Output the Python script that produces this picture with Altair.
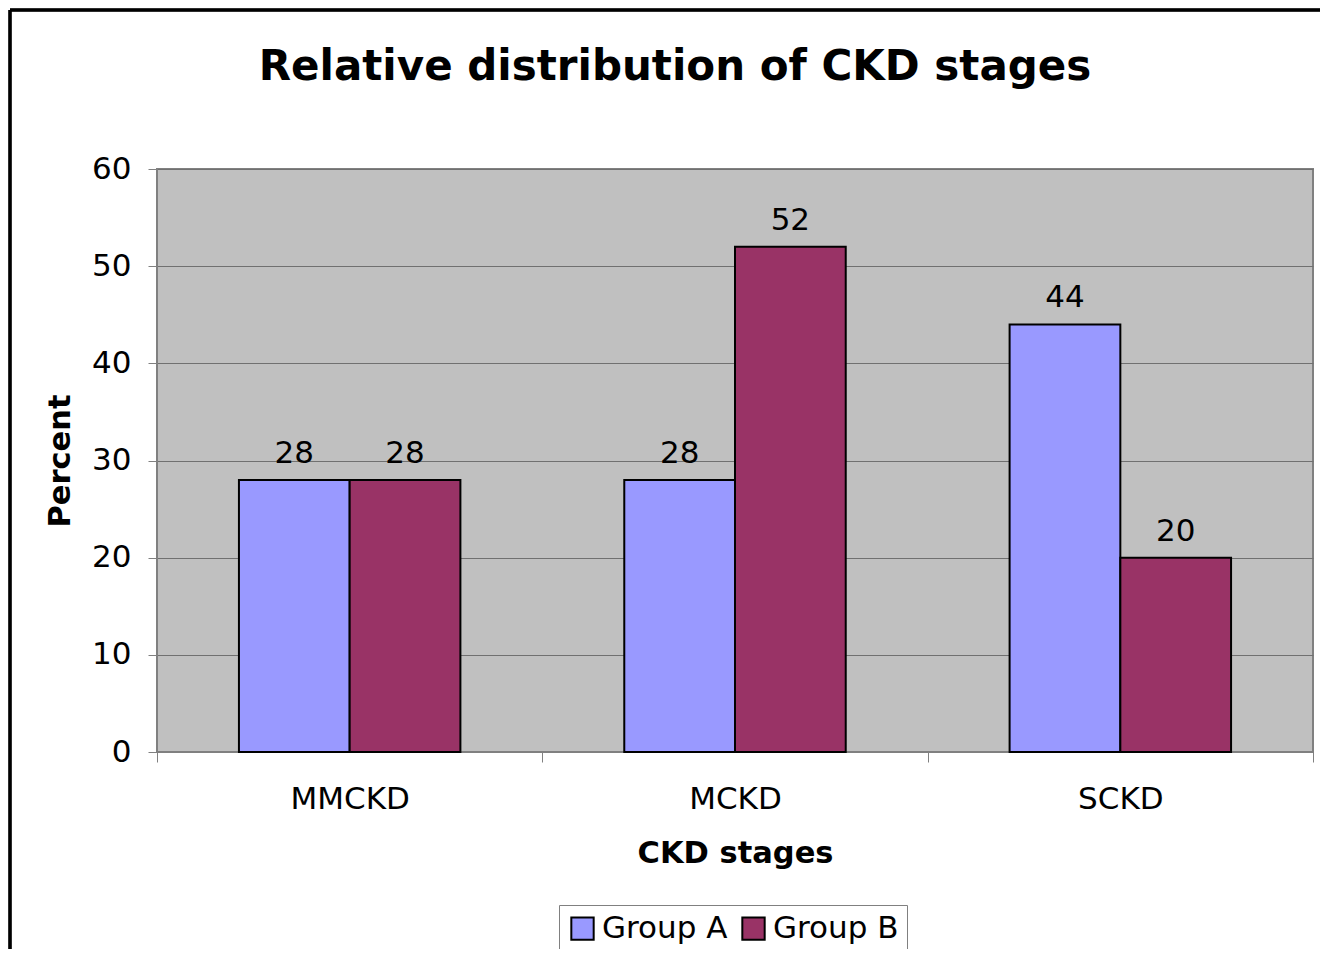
import altair as alt
import pandas as pd

stages = ["MMCKD", "MCKD", "SCKD"]
groups = ["Group A", "Group B"]
group_a = [28, 28, 44]
group_b = [28, 52, 20]

rows = []
for i, s in enumerate(stages):
    rows.append({"stage": s, "group": groups[0], "value": group_a[i]})
    rows.append({"stage": s, "group": groups[1], "value": group_b[i]})
df = pd.DataFrame(rows)

FONT = "DejaVu Sans"

x_enc = alt.X("stage:N", sort=stages,
              scale=alt.Scale(paddingInner=0, paddingOuter=0),
              axis=alt.Axis(title="CKD stages", labelAngle=0, tickBand="extent",
                            labelFontSize=31, labelPadding=22, tickSize=10,
                            titleFontSize=30.5, titleFontWeight="bold", titlePadding=24,
                            domainColor="#808080", tickColor="#808080",
                            labelColor="black", titleColor="black", grid=False))
xo_enc = alt.XOffset("group:N", sort=groups,
                     scale=alt.Scale(paddingInner=0, paddingOuter=0.74))
y_enc = alt.Y("value:Q", scale=alt.Scale(domain=[0, 60]),
              axis=alt.Axis(title="Percent", values=[0, 10, 20, 30, 40, 50, 60],
                            labelFontSize=31, labelPadding=17, tickSize=9,
                            titleFontSize=30.5, titleFontWeight="bold", titlePadding=16,
                            domainColor="#808080", tickColor="#808080",
                            gridColor="#707070", gridWidth=1.2,
                            labelColor="black", titleColor="black"))

color_enc = alt.Color("group:N", sort=groups,
                      scale=alt.Scale(domain=groups, range=["#9999FF", "#993366"]),
                      legend=alt.Legend(title=None, orient="none", legendX=402, legendY=736,
                                        direction="horizontal", symbolType="square",
                                        symbolSize=500, symbolStrokeColor="black",
                                        symbolStrokeWidth=2, labelFontSize=31,
                                        labelColor="black", strokeColor="#808080",
                                        padding=8, columnPadding=10, labelOffset=4))

bars = alt.Chart(df).mark_bar(stroke="black", strokeWidth=2).encode(
    x=x_enc, xOffset=xo_enc, y=y_enc, color=color_enc
)

labels = alt.Chart(df).mark_text(baseline="alphabetic", dy=-17, fontSize=31,
                                 font=FONT, color="black").encode(
    x=alt.X("stage:N", sort=stages), xOffset=alt.XOffset("group:N", sort=groups),
    y="value:Q", text="value:Q"
)

frame_left = alt.Chart(df).mark_rule(color="black", strokeWidth=2.5).encode(
    x=alt.value(-147), y=alt.value(-159), y2=alt.value(900)
)
frame_top = alt.Chart(df).mark_rule(color="black", strokeWidth=2.5).encode(
    x=alt.value(-147), x2=alt.value(1300), y=alt.value(-159)
)

chart = alt.layer(bars, labels, frame_left, frame_top).properties(
    width=1156, height=583,
    title=alt.TitleParams("Relative distribution of CKD stages", fontSize=42,
                          font=FONT, fontWeight="bold", color="black",
                          anchor="middle", frame="group", offset=-80, dx=-60),
    autosize=alt.AutoSizeParams(type="none"),
    padding={"left": 149, "top": 161, "right": 7, "bottom": 197},
).configure(font=FONT).configure_view(
    fill="#C0C0C0", stroke="#808080", strokeWidth=2
)

chart.save("out.html", embed_options={"renderer": "svg", "actions": False})
